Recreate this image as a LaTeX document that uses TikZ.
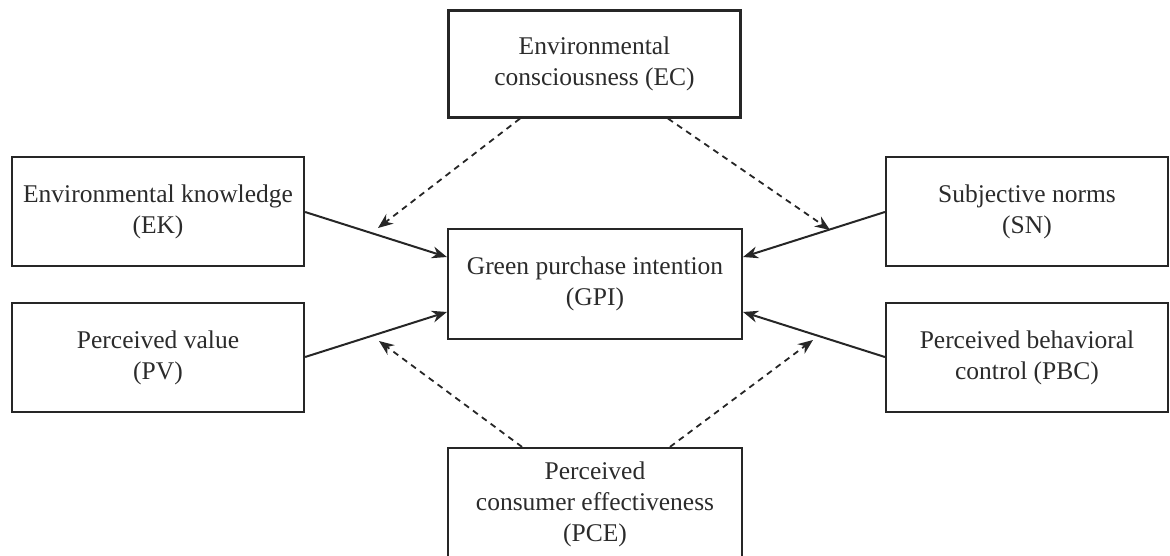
\documentclass[tikz,border=0pt]{standalone}
\usepackage{fontspec}
\setmainfont{Liberation Serif}
\usetikzlibrary{arrows.meta}
\definecolor{ln}{HTML}{262626}
\definecolor{tx}{HTML}{2B2B2B}
\begin{document}
\begin{tikzpicture}[x=1pt,y=-1pt,
  box/.style={draw=ln, line width=2.2pt, rectangle, align=center, text=tx,
    font=\fontsize{25.5}{31}\selectfont, inner sep=0pt},
  solidarr/.style={draw=ln, line width=2pt, -{Stealth[length=15pt,width=12pt]}},
  dasharr/.style={draw=ln, line width=1.8pt, dash pattern=on 6pt off 5pt, -{Stealth[length=15pt,width=12pt]}}]
\useasboundingbox (0,0) rectangle (1170,556);
\clip (0,0) rectangle (1170,556);
\node[box, minimum width=292pt, minimum height=107pt] (EC) at (594.5,64) {Environmental\\consciousness (EC)};
\node[box, minimum width=292pt, minimum height=109pt] (EK) at (158,211.5) {Environmental knowledge\\(EK)};
\node[box, minimum width=292pt, minimum height=109pt] (PV) at (158,357.5) {Perceived value\\(PV)};
\node[box, minimum width=294pt, minimum height=110pt] (GPI) at (595,284) {Green purchase intention\\(GPI)};
\node[box, minimum width=282pt, minimum height=109pt] (SN) at (1027,211.5) {Subjective norms\\(SN)};
\node[box, minimum width=282pt, minimum height=109pt] (PBC) at (1027,357.5) {Perceived behavioral\\control (PBC)};
\node[box, minimum width=294pt, minimum height=112pt] (PCE) at (595,504) {Perceived\\consumer effectiveness\\(PCE)};
% solid arrows
\draw[solidarr] (EK.east |- 0,212) -- (GPI.west |- 0,257);
\draw[solidarr] (PV.east |- 0,357) -- (GPI.west |- 0,312);
\draw[solidarr] (SN.west |- 0,212) -- (GPI.east |- 0,257);
\draw[solidarr] (PBC.west |- 0,357) -- (GPI.east |- 0,312);
% dashed arrows
\coordinate (ecl) at (378,228);
\coordinate (ecr) at (830,230);
\coordinate (pcl) at (379,341);
\coordinate (pcr) at (813,340);
\draw[dasharr] (EC.south -| 520,0) -- (ecl);
\draw[dasharr] (EC.south -| 668,0) -- (ecr);
\draw[dasharr] (PCE.north -| 522,0) -- (pcl);
\draw[dasharr] (PCE.north -| 670,0) -- (pcr);
\end{tikzpicture}
\end{document}
